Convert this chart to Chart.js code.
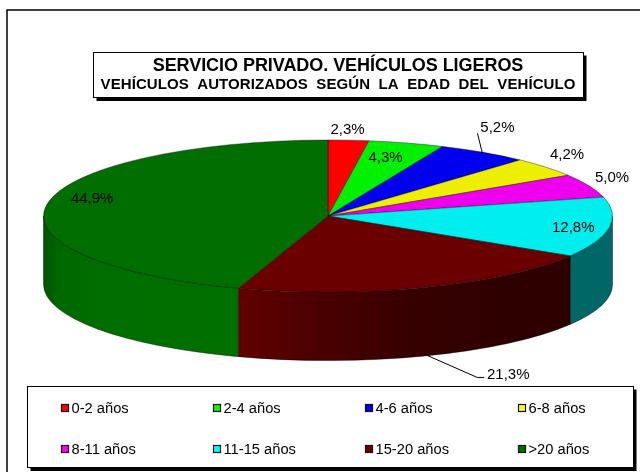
<!DOCTYPE html>
<html><head><meta charset="utf-8">
<style>html,body{margin:0;padding:0;background:#fff;overflow:hidden}canvas{display:block}</style>
<script src="https://cdn.jsdelivr.net/npm/chart.js@4/dist/chart.umd.min.js"></script>
</head><body>
<canvas id="c" width="640" height="472"></canvas>
<script>
const categories = ['0-2 años','2-4 años','4-6 años','6-8 años','8-11 años','11-15 años','15-20 años','>20 años'];
const shares = [2.3,4.3,5.2,4.2,5.0,12.8,21.3,44.9];
const valueLabels = ['2,3%','4,3%','5,2%','4,2%','5,0%','12,8%','21,3%','44,9%'];
const titleLines = ['SERVICIO PRIVADO. VEHÍCULOS LIGEROS','VEHÍCULOS  AUTORIZADOS  SEGÚN  LA  EDAD  DEL  VEHÍCULO'];
const topColors = ['#FF0000','#00F000','#0000EE','#EEEE00','#EE00EE','#00EEEE','#6B0000','#006E00'];
const legendColors = ['#FF0000','#00FF00','#0000FF','#FFFF00','#FF00FF','#00FFFF','#700000','#007000'];
const sideStops = [
  [[0,'#800000'],[1,'#800000']],[[0,'#008000'],[1,'#008000']],[[0,'#000080'],[1,'#000080']],
  [[0,'#808000'],[1,'#808000']],[[0,'#800080'],[1,'#800080']],[[0,'#006666'],[1,'#006666']],
  [[0,'#620000'],[.2,'#4E0000'],[.5,'#380000'],[.8,'#2E0000'],[1,'#2E0000']],
  [[0,'#005400'],[.08,'#006800'],[.3,'#006E00'],[1,'#007000']]
];

const RX = 284.5, RY = 76, DEPTH = 68.5, FONT = '"Liberation Sans", Arial, sans-serif';
const labelOffsets = [[-1,-10],[-21,15],[14,-24],[21,-12],[23,-8],[-36,0],[83,87],[45,-5]];
const leaders = {2:[[-6,-19],[-1,1]], 6:[[2,68],[52,90],[59,90]]};

function shadowBox(ctx,x,y,w,h,s){
  ctx.fillStyle='#000';ctx.fillRect(x+s,y+s,w,h+.5);
  ctx.fillStyle='#fff';ctx.fillRect(x,y,w,h);
  ctx.strokeStyle='#000';ctx.lineWidth=1;ctx.strokeRect(x+.5,y+.5,w,h);
}

const pie3d = {
  id:'pie3d',
  beforeDraw(chart){
    const ctx=chart.ctx;
    ctx.save();
    ctx.fillStyle='#fff';ctx.fillRect(0,0,640,472);
    ctx.strokeStyle='#000';ctx.lineWidth=1.5;
    ctx.beginPath();ctx.moveTo(7,472);ctx.lineTo(7,10);ctx.lineTo(640,10);ctx.stroke();
    // title
    shadowBox(ctx,93,52,490,45,3.5);
    ctx.fillStyle='#000';ctx.textAlign='center';ctx.textBaseline='middle';
    ctx.font='bold 18px '+FONT;ctx.letterSpacing='-0.05px';
    ctx.fillText(titleLines[0],338,66);
    ctx.font='bold 15px '+FONT;ctx.letterSpacing='0.08px';
    ctx.fillText(titleLines[1],338,85);
    ctx.letterSpacing='0px';
    // legend
    shadowBox(ctx,27,386,606,81,3.5);
    ctx.font='14.7px '+FONT;ctx.textAlign='left';
    const cols=[61,213,365,518],rows=[408,449];
    categories.forEach((t,i)=>{
      const x=cols[i%4],y=rows[i>>2];
      ctx.fillStyle=legendColors[i];ctx.fillRect(x+.5,y-3.5,7,7);
      ctx.strokeStyle='#111';ctx.lineWidth=1.2;ctx.strokeRect(x+.5,y-3.5,7,7);
      ctx.fillStyle='#000';ctx.fillText(t,x+10.5,y+.5);
    });
    ctx.restore();
  },
  beforeDatasetsDraw(chart){
    const ctx=chart.ctx,arcs=chart.getDatasetMeta(0).data;
    const cx=arcs[0].x,cy=arcs[0].y;
    ctx.save();
    arcs.forEach((a,i)=>{
      // only the front half of the rim (canvas angles 0..PI) has a visible wall
      const s1=Math.max(a.startAngle,0),e1=Math.min(a.endAngle,Math.PI);
      if(e1<=s1) return;
      const x0=cx+RX*Math.cos(s1),x1=cx+RX*Math.cos(e1);
      const g=ctx.createLinearGradient(x1,0,x0,0);
      sideStops[i].forEach(p=>g.addColorStop(p[0],p[1]));
      ctx.beginPath();
      ctx.ellipse(cx,cy,RX,RY,0,s1,e1);
      ctx.ellipse(cx,cy+DEPTH,RX,RY,0,e1,s1,true);
      ctx.closePath();
      ctx.fillStyle=g;ctx.fill();
      ctx.strokeStyle='rgba(0,0,0,.7)';ctx.lineWidth=.6;ctx.stroke();
    });
    ctx.restore();
    ctx.save();
    ctx.translate(cx,cy);ctx.scale(1,RY/RX);ctx.translate(-cx,-cy);
  },
  afterDatasetsDraw(chart){
    const ctx=chart.ctx;
    ctx.restore();
    const arcs=chart.getDatasetMeta(0).data;
    ctx.save();
    ctx.font='15px '+FONT;ctx.textAlign='center';ctx.textBaseline='middle';
    arcs.forEach((a,i)=>{
      const m=(a.startAngle+a.endAngle)/2;
      const ax=a.x+RX*Math.cos(m),ay=a.y+RY*Math.sin(m);
      const o=labelOffsets[i];
      if(leaders[i]){
        ctx.beginPath();
        leaders[i].forEach((p,k)=>{k?ctx.lineTo(ax+p[0],ay+p[1]):ctx.moveTo(ax+p[0],ay+p[1]);});
        ctx.strokeStyle='#000';ctx.lineWidth=1;ctx.stroke();
      }
      ctx.fillStyle='#000';
      ctx.fillText(valueLabels[i],ax+o[0],ay+o[1]);
    });
    ctx.restore();
  }
};

new Chart(document.getElementById('c'),{
  type:'pie',
  plugins:[pie3d],
  data:{labels:categories,datasets:[{data:shares,backgroundColor:topColors,borderColor:'rgba(0,0,0,.75)',borderWidth:.8,borderAlign:'center',radius:RX}]},
  options:{
    responsive:false,animation:false,
    events:[],
    layout:{padding:{left:16,right:0,top:0,bottom:40}},
    plugins:{legend:{display:false},title:{display:false},tooltip:{enabled:false}}
  }
});
</script>
</body></html>
